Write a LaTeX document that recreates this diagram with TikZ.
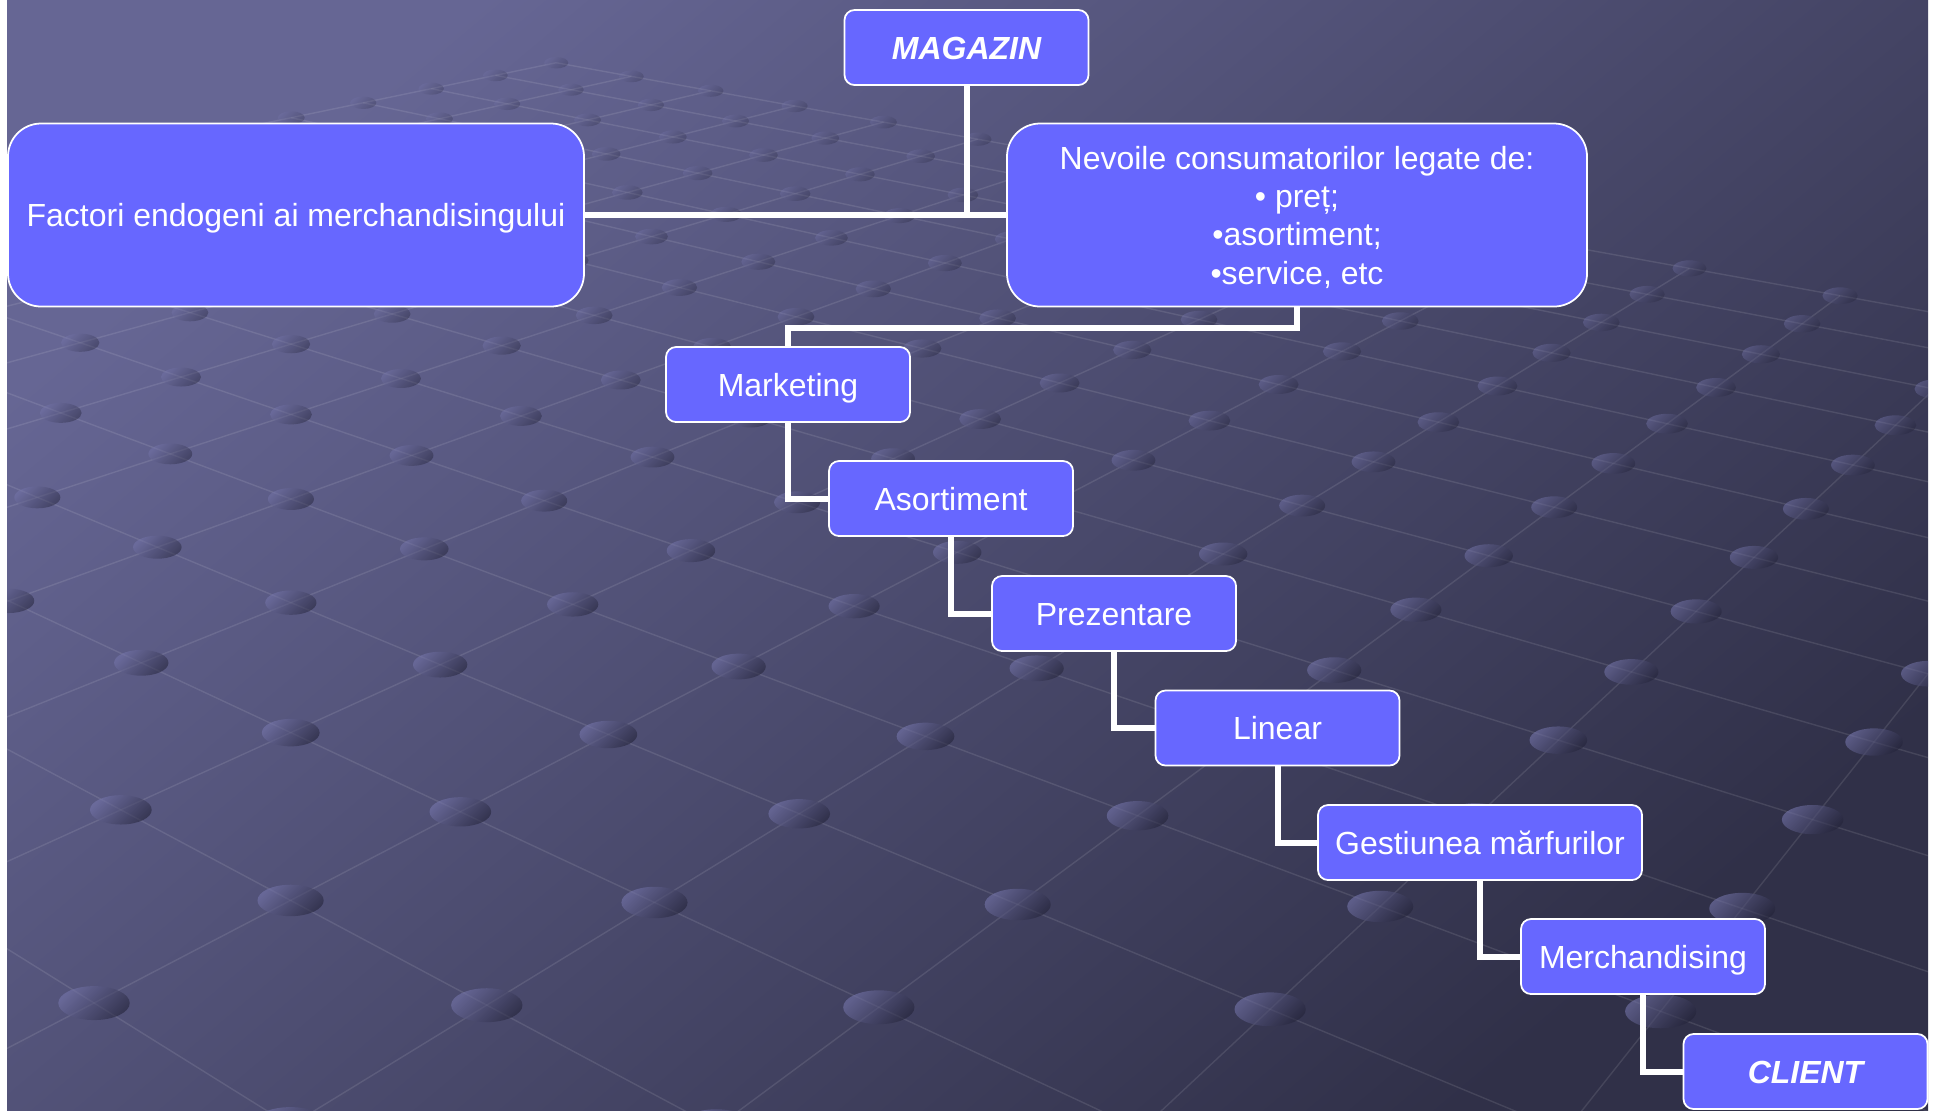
\documentclass[tikz,border=0pt]{standalone}
\usepackage{fontspec}
\setmainfont{Liberation Sans}
\usepackage{xcolor}
\definecolor{boxfill}{RGB}{103,103,255}
\definecolor{bgtop}{RGB}{102,102,148}
\definecolor{bgmid}{RGB}{82,82,122}
\definecolor{bgbot}{RGB}{48,48,72}
\definecolor{dotlight}{RGB}{118,118,172}
\definecolor{dotdark}{RGB}{36,36,58}

\newcommand{\floorpt}[3]{%
  \pgfmathsetmacro\flw{1-0.043731*(#2)+0.044266*(#3)}%
  \pgfmathsetmacro\flx{(97.27*(#2)+122.94*(#3)+181)/\flw/100}%
  \pgfmathsetmacro\fly{-(19.32*(#2)-17.62*(#3)+377)/\flw/100}%
  \coordinate (#1) at (\flx,\fly);}

\begin{document}
\begin{tikzpicture}[
      stepbox/.style={draw=white, line width=0.5pt, fill=boxfill, rounded corners=0.1cm, minimum width=2.44cm, minimum height=0.75cm, inner sep=0pt, align=center, text=white, text height=6.6pt, text depth=0pt, font=\fontsize{9.1}{10.9}\selectfont},
      endbox/.style={stepbox, font=\fontsize{9.1}{10.9}\selectfont\bfseries\itshape},
      bigbox/.style={stepbox, rounded corners=0.33cm, minimum height=1.83cm, text height={}},
      linkstyle/.style={draw=white, line width=0.6mm},
      gridline/.style={draw=white, draw opacity=0.1, line width=0.4pt},
      griddot/.style={top color=dotlight, bottom color=dotdark, shading angle=45}
    ]
    \useasboundingbox (0,0) rectangle (19.37,-11.10);
    \fill[white] (0,0) rectangle (19.37,-11.10);
    \shade[top color=bgtop, middle color=bgmid, bottom color=bgbot, shading angle=40] (0.07,0) rectangle (19.28,-11.10);

    \begin{scope}
      \clip (0.07,0) rectangle (19.28,-11.10);
      \foreach \j in {-7,...,10} {
        \floorpt{ga}{-5}{\j}
        \floorpt{gb}{11}{\j}
        \draw[gridline] (ga) -- (gb);
      }
      \foreach \i in {-5,...,11} {
        \floorpt{ga}{\i}{-7}
        \floorpt{gb}{\i}{10}
        \draw[gridline] (ga) -- (gb);
      }
      \foreach \i in {-5,...,11}
        \foreach \j in {-7,...,10} {
          \floorpt{gd}{\i}{\j}
          \pgfmathsetmacro\flo{min(0.6,0.42/\flw)}
          \shade[griddot, fill opacity=\flo] (gd) ellipse [x radius=0.2/\flw, y radius=0.095/\flw];
        }
    \end{scope}

    \node[endbox] (magazin) at (9.665,-0.475) {MAGAZIN};
    \node[bigbox, minimum width=5.76cm] (factori) at (2.96,-2.15) {Factori endogeni ai merchandisingului};
    \node[bigbox, minimum width=5.80cm] (nevoi) at (12.97,-2.15) {Nevoile consumatorilor legate de:\\• preț;\\•asortiment;\\•service, etc};

    \node[stepbox] (marketing) at (7.88,-3.845) {Marketing};
    \node[stepbox] (asortiment) at (9.51,-4.985) {Asortiment};
    \node[stepbox] (prezentare) at (11.14,-6.135) {Prezentare};
    \node[stepbox] (linear) at (12.775,-7.28) {Linear};
    \node[stepbox, minimum width=3.24cm] (gestiune) at (14.80,-8.425) {Gestiunea mărfurilor};
    \node[stepbox] (merch) at (16.43,-9.565) {Merchandising};
    \node[endbox] (client) at (18.055,-10.715) {CLIENT};

    \draw[linkstyle] (magazin.south) -- (magazin.south |- factori.east);
    \draw[linkstyle] (factori.east) -- (nevoi.west);
    \draw[linkstyle] (nevoi.south) -- ++(0,-0.21) -| (marketing.north);
    \foreach \a/\b in {marketing/asortiment, asortiment/prezentare, prezentare/linear, linear/gestiune, gestiune/merch, merch/client}
      \draw[linkstyle] (\a.south) |- (\b.west);
  \end{tikzpicture}
\end{document}
